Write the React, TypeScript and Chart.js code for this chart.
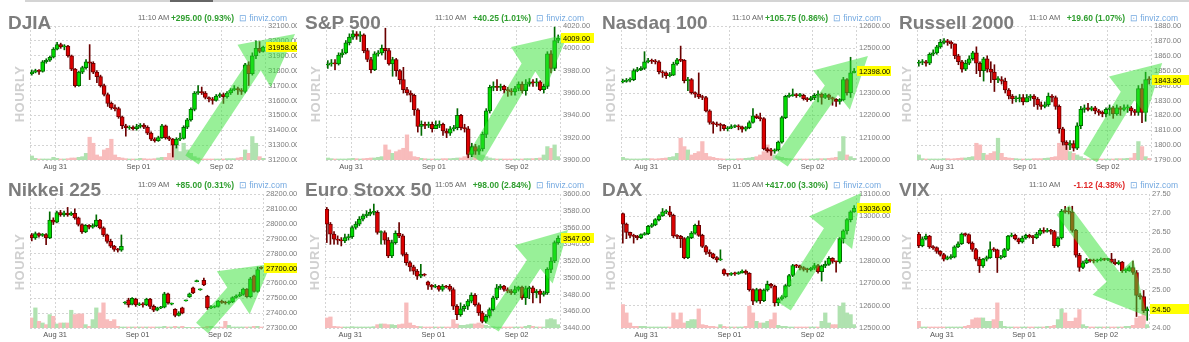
import React, { useEffect, useRef } from "react";
import { Chart, registerables } from "chart.js";

Chart.register(...registerables);
Chart.defaults.font.family = "'Liberation Sans', Arial, sans-serif";

// ---------- shared axis labels ----------
const dayTicks = [7, 30, 53];
const dayLabels = ["Aug 31", "Sep 01", "Sep 02"];

// ---------- DJIA ----------
const djiaFirstOpen = 31780;
const djiaClose = [31790,31800,31795,31860,31870,31890,31945,31975,31960,31965,31900,31810,31700,31790,31820,31860,31850,31790,31760,31700,31640,31580,31550,31545,31490,31430,31415,31420,31410,31425,31435,31420,31380,31340,31330,31350,31430,31350,31340,31300,31340,31345,31420,31470,31540,31650,31660,31650,31620,31610,31600,31630,31640,31625,31650,31670,31680,31670,31660,31840,31780,31900,31950,31930,31958];
const djiaHigh = [31805,31810,31808,31868,31880,31898,31955,31990,31985,31975,31970,31905,31815,31795,31830,31875,31975,31860,31800,31770,31710,31650,31590,31570,31555,31495,31440,31430,31430,31440,31445,31445,31430,31390,31350,31360,31440,31435,31360,31345,31350,31380,31430,31480,31550,31660,31700,31690,31660,31625,31620,31640,31650,31650,31660,31680,31700,31690,31680,31850,31860,31920,32000,31995,31965];
const djiaLow = [31770,31785,31775,31790,31850,31862,31885,31940,31950,31940,31890,31800,31690,31695,31780,31810,31740,31780,31720,31690,31630,31560,31540,31530,31480,31410,31360,31405,31400,31400,31415,31410,31370,31330,31320,31325,31345,31340,31330,31220,31280,31330,31340,31410,31460,31530,31640,31640,31610,31590,31575,31595,31620,31580,31615,31640,31665,31640,31640,31650,31700,31770,31880,31920,31925];
const djiaVol = [12,5,3,3,3,3,8,5,3,3,4,6,6,8,10,20,68,50,15,10,30,35,62,15,8,6,4,3,3,3,5,4,3,3,4,6,8,8,20,45,40,25,50,30,20,10,6,3,3,3,3,3,3,3,4,4,4,6,8,30,20,70,50,10,5];
// arrow: tail index, tail value, neck index, neck value, tip index, tip value
const djiaArrow = [44.3, 31200, 61.5, 31831, 72.8, 32046];

// ---------- S&P 500 ----------
const spxFirstOpen = 3985;
const spxClose = [3986,3987,3986,3994,3996,4005,4010,4013,4011,4012,3998,3990,3981,3995,3996,4000,3998,3986,3990,3980,3972,3963,3960,3958,3945,3930,3932,3931,3932,3928,3931,3932,3926,3924,3928,3929,3940,3929,3928,3905,3912,3908,3910,3923,3944,3965,3966,3965,3966,3963,3962,3961,3964,3968,3962,3968,3970,3969,3970,3963,3966,3995,3982,4007,4009];
const spxHigh = [3989,3990,3990,3996,3999,4007,4013,4016,4015,4015,4013,4000,3992,3997,3998,4003,4018,4000,3992,3991,3981,3983,3965,3962,3959,3946,3935,3934,3934,3934,3935,3935,3933,3928,3930,3931,3946,3941,3932,3930,3915,3914,3913,3925,3946,3967,3970,3972,3968,3967,3965,3964,3966,3970,3970,3972,3973,3972,3973,3971,3968,3997,3998,4019,4012];
const spxLow = [3982,3984,3981,3985,3992,3995,4003,4008,4008,4006,3996,3988,3978,3980,3993,3994,3990,3985,3975,3975,3968,3960,3958,3952,3940,3925,3922,3928,3929,3925,3928,3929,3922,3920,3922,3926,3927,3927,3925,3902,3903,3905,3905,3908,3920,3942,3962,3962,3962,3960,3957,3958,3958,3962,3960,3958,3966,3966,3966,3962,3960,3964,3978,3980,4005];
const spxVol = [6,4,3,3,3,3,4,5,4,3,4,5,6,6,8,10,45,30,20,25,30,35,75,25,10,8,5,4,3,3,3,3,4,4,4,5,6,6,10,25,20,35,25,15,10,6,4,3,3,3,3,3,3,3,3,4,4,4,5,6,15,40,35,45,10];
const spxArrow = [40.9, 3901.8, 55.75, 3982.8, 66.7, 4012.8];

// ---------- Nasdaq 100 ----------
const ndxFirstOpen = 12350;
const ndxClose = [12352,12358,12360,12400,12405,12410,12440,12445,12442,12440,12395,12390,12378,12380,12430,12448,12446,12355,12360,12302,12295,12282,12280,12220,12168,12160,12158,12155,12140,12142,12150,12152,12148,12138,12145,12168,12198,12190,12185,12050,12042,12040,12045,12080,12190,12285,12288,12292,12288,12290,12275,12270,12278,12290,12295,12280,12292,12280,12272,12262,12270,12360,12302,12390,12398];
const ndxHigh = [12362,12365,12368,12408,12415,12418,12485,12455,12452,12450,12445,12400,12395,12392,12438,12455,12510,12450,12370,12365,12305,12390,12290,12285,12225,12172,12170,12165,12160,12150,12158,12158,12158,12152,12150,12175,12230,12205,12210,12190,12055,12052,12050,12085,12195,12290,12300,12318,12298,12298,12295,12280,12285,12298,12310,12300,12298,12295,12282,12275,12275,12370,12365,12460,12410];
const ndxLow = [12345,12348,12350,12355,12395,12400,12405,12435,12432,12430,12385,12370,12365,12372,12378,12425,12440,12345,12310,12295,12280,12275,12270,12215,12160,12120,12150,12130,12132,12130,12140,12145,12135,12125,12130,12140,12165,12185,12175,12045,12035,12020,12030,12040,12075,12185,12280,12285,12280,12282,12268,12262,12265,12270,12260,12250,12275,12270,12245,12240,12250,12265,12290,12280,12390];
const ndxVol = [8,4,3,3,3,3,4,4,4,3,4,5,6,8,10,20,65,40,30,15,20,25,55,20,10,8,5,4,3,3,3,3,4,4,5,6,8,10,15,25,45,30,15,10,8,5,4,3,3,3,3,3,3,3,4,4,4,5,6,8,25,70,15,10,5];
const ndxArrow = [43.8, 11991, 57.7, 12313, 67.8, 12466];

// ---------- Russell 2000 ----------
const rutFirstOpen = 1855;
const rutClose = [1855.5,1856,1855,1861,1862,1866,1869,1870,1869,1868,1860,1856,1851,1855,1858,1862,1855,1850,1858,1851,1849,1844,1844,1843,1837,1833,1831,1831,1832,1829,1832,1833,1831,1827,1826,1827,1833,1832,1826,1811,1802,1800,1801,1798,1813,1824,1825,1824,1825,1823,1822,1821,1824,1825,1821,1825,1824,1825,1825,1823,1822,1838,1822,1844,1843.8];
const rutHigh = [1857,1857.5,1857,1862,1864,1867,1871,1871.5,1871,1870,1868,1861,1857,1857,1860,1863,1866,1856,1859,1860,1856,1854,1846,1846,1845,1838,1834,1833,1834,1834,1834,1834,1834,1832,1829,1829,1835,1834,1833,1827,1812,1803,1803,1803,1815,1826,1827,1828,1826,1826,1824,1823,1825,1827,1826,1827,1826,1827,1827,1826,1824,1840,1841,1849,1846];
const rutLow = [1853,1854,1853,1854,1860,1861,1865,1868,1867,1865,1858,1854,1849,1850,1854,1857,1848,1846,1843,1849,1842,1836,1842,1841,1835,1831,1828,1829,1829,1827,1829,1830,1826,1824,1824,1825,1826,1829,1824,1808,1800,1797,1797,1796,1797,1811,1822,1823,1823,1821,1820,1819,1819,1820,1818,1820,1820,1823,1822,1820,1820,1820,1815,1816,1841];
const rutVol = [15,4,3,3,3,3,3,4,4,3,4,5,6,6,8,10,50,45,20,15,20,25,65,20,8,6,5,4,3,3,3,3,4,4,4,5,6,8,10,50,70,40,25,20,15,10,5,3,3,3,3,3,3,3,3,4,4,4,5,6,20,55,40,10,5];
const rutArrow = [47.6, 1791.3, 58.0, 1833.0, 67.6, 1855.1];

// ---------- Nikkei 225 ----------
const nkyOpen = [27925,27905,27935,27922,27928,27905,28025,28010,28075,28060,28072,28060,28070,28040,27995,27945,27990,27978,27988,28025,27972,27925,27882,27850,27828,27822,27468,27490,27460,27495,27455,27462,27455,27495,27445,27420,27435,27440,27530,27460,27425,27385,27435,27482,27508,27570,27612,27556,27620,27513,27435,27440,27445,27480,27472,27468,27475,27505,27515,27525,27562,27510,27650,27545,27710];
const nkyClose = [27905,27935,27922,27928,27905,28025,28010,28075,28060,28072,28060,28070,28040,27995,27945,27990,27978,27988,28025,27972,27925,27882,27850,27828,27822,27848,27472,27455,27500,27455,27462,27455,27495,27445,27420,27435,27440,27530,27470,27462,27385,27400,27400,27485,27530,27535,27618,27560,27590,27435,27440,27445,27480,27472,27468,27475,27505,27515,27525,27562,27510,27630,27545,27692,27700];
const nkyHigh = [27935,27945,27940,27935,27935,28080,28040,28085,28090,28085,28110,28080,28100,28045,28000,27995,27995,28000,28060,28030,27980,27930,27895,27855,27835,27925,27478,27500,27505,27500,27470,27470,27500,27500,27455,27440,27445,27540,27535,27468,27430,27410,27440,27488,27535,27575,27622,27563,27635,27520,27450,27450,27485,27488,27480,27482,27510,27522,27540,27568,27565,27640,27655,27710,27712];
const nkyLow = [27885,27895,27910,27915,27860,27900,27995,28005,28050,28050,28050,28055,28030,27985,27935,27940,27965,27970,27980,27965,27915,27870,27840,27815,27810,27815,27460,27440,27455,27445,27450,27440,27450,27430,27410,27415,27430,27435,27460,27455,27375,27380,27395,27480,27505,27530,27610,27553,27585,27425,27430,27435,27440,27465,27460,27460,27470,27500,27510,27520,27505,27505,27540,27540,27695];
const nkyVol = [30,60,20,15,10,40,35,12,15,15,15,53,40,42,42,10,5,25,60,45,75,25,20,25,5,3,3,3,3,3,3,3,3,3,3,3,3,5,3,3,5,3,5,2,2,2,2,2,2,5,5,3,3,3,20,8,3,3,3,3,3,3,5,5,3];
const nkyArrow = [47.5, 27300, 56.2, 27537, 66.7, 27730];

// ---------- Euro Stoxx 50 ----------
const sx5Open = [3582,3564,3552,3546,3545,3544,3548,3549,3560,3564,3570,3574,3576,3578,3578,3554,3554,3545,3526,3542,3553,3550,3528,3518,3513,3508,3502,3504,3495,3491,3489,3490,3486,3490,3490,3486,3466,3456,3463,3466,3472,3479,3468,3458,3448,3454,3462,3476,3488,3490,3486,3484,3482,3486,3489,3476,3487,3488,3482,3484,3480,3482,3510,3520,3542];
const sx5Close = [3564,3552,3546,3545,3544,3548,3549,3560,3564,3570,3574,3576,3578,3578,3554,3554,3545,3526,3542,3553,3550,3528,3518,3513,3508,3502,3504,3503,3491,3489,3490,3486,3490,3489,3486,3466,3456,3463,3466,3472,3479,3468,3458,3448,3454,3462,3476,3488,3490,3486,3484,3482,3486,3489,3476,3487,3488,3482,3484,3480,3482,3510,3520,3542,3547];
const sx5High = [3584,3566,3555,3550,3548,3552,3552,3562,3567,3573,3576,3580,3582,3588,3580,3556,3556,3548,3545,3556,3566,3552,3530,3520,3515,3510,3516,3505,3496,3492,3492,3491,3492,3491,3492,3488,3468,3470,3468,3474,3482,3481,3470,3460,3456,3464,3478,3492,3492,3491,3488,3486,3490,3490,3490,3490,3490,3490,3486,3486,3484,3512,3524,3544,3550];
const sx5Low = [3542,3540,3540,3540,3538,3542,3545,3547,3558,3562,3568,3572,3574,3575,3552,3540,3540,3524,3524,3540,3548,3526,3515,3508,3504,3498,3500,3502,3486,3486,3488,3484,3484,3488,3484,3462,3450,3454,3460,3462,3470,3466,3455,3446,3446,3452,3460,3474,3486,3484,3482,3480,3480,3484,3474,3468,3475,3470,3476,3470,3478,3480,3506,3518,3540];
const sx5Vol = [30,33,5,4,3,3,3,4,3,3,3,3,3,4,10,12,12,10,10,8,10,12,75,15,8,5,4,3,3,3,3,3,3,3,3,25,12,8,8,10,12,12,15,10,8,5,4,3,3,3,3,3,3,3,3,5,8,5,3,3,3,25,28,25,10];
const sx5Arrow = [45.7, 3441, 57.2, 3516, 66.7, 3557];

// ---------- DAX ----------
const daxOpen = [13012,12965,12928,12915,12910,12905,12918,12922,12955,12962,12985,13002,13020,13020,13005,12912,12910,12900,12815,12905,12925,12960,12915,12865,12840,12832,12815,12805,12762,12742,12740,12745,12742,12748,12755,12745,12672,12620,12672,12622,12670,12695,12688,12612,12630,12640,12690,12735,12780,12778,12770,12762,12760,12768,12780,12752,12778,12785,12812,12798,12796,12900,12935,12985,13020];
const daxClose = [12965,12928,12915,12910,12905,12918,12922,12955,12962,12985,13002,13020,13020,13005,12912,12910,12900,12815,12905,12925,12960,12915,12865,12840,12832,12815,12805,12808,12742,12740,12745,12742,12748,12755,12745,12672,12620,12672,12622,12670,12695,12688,12612,12630,12640,12690,12735,12780,12778,12770,12762,12760,12768,12780,12752,12778,12785,12812,12798,12796,12900,12935,12985,13020,13036];
const daxHigh = [13015,12970,12930,12920,12915,12922,12928,12960,12968,12990,13008,13035,13030,13045,13010,12918,12915,12905,12910,12932,12965,12980,12920,12870,12850,12835,12820,12850,12765,12745,12748,12750,12752,12760,12760,12748,12675,12678,12675,12675,12710,12700,12692,12635,12645,12695,12740,12785,12785,12782,12775,12768,12772,12790,12785,12782,12800,12820,12815,12800,12905,12940,12990,13025,13048];
const daxLow = [12880,12900,12905,12880,12895,12900,12915,12918,12950,12958,12980,13000,13012,12998,12905,12900,12860,12810,12810,12900,12920,12910,12860,12830,12820,12810,12795,12802,12735,12732,12735,12735,12740,12745,12740,12665,12605,12615,12610,12618,12665,12680,12598,12600,12625,12635,12685,12730,12770,12760,12755,12750,12755,12762,12745,12710,12770,12780,12790,12750,12790,12880,12920,12975,13018];
const daxVol = [70,45,15,5,5,5,5,3,3,3,3,3,3,3,45,25,45,15,20,25,25,57,10,8,5,5,3,10,5,3,3,3,3,3,5,65,45,20,15,15,20,25,45,8,5,5,3,3,3,3,3,3,3,3,3,20,45,15,10,10,65,75,45,40,10];
const daxArrow = [44.6, 12598, 57.5, 12927, 65.9, 13104];

// ---------- VIX ----------
const vixFirstOpen = 26.45;
const vixClose = [26.15,26.33,26.40,26.12,26.10,26.00,25.92,25.80,25.84,25.85,26.12,26.20,26.45,26.44,26.22,26.05,25.80,25.62,25.80,25.84,26.05,26.04,25.83,25.86,26.05,26.40,26.42,26.33,26.25,26.35,26.42,26.38,26.36,26.45,26.55,26.52,26.55,26.52,26.15,26.35,27.05,27.04,27.03,26.55,25.90,25.58,25.70,25.78,25.76,25.75,25.77,25.80,25.79,25.80,25.72,25.68,25.72,25.50,25.50,25.58,25.45,24.85,24.82,24.45,24.50];
const vixHigh = [26.50,26.38,26.45,26.42,26.15,26.12,26.02,25.95,25.88,25.92,26.15,26.25,26.48,26.48,26.46,26.25,26.08,25.85,25.82,25.88,26.25,26.10,26.06,25.90,26.08,26.42,26.48,26.45,26.35,26.40,26.45,26.45,26.42,26.50,26.60,26.62,26.60,26.58,26.55,26.38,27.10,27.18,27.15,27.18,26.58,25.95,25.75,25.82,25.80,25.80,25.80,25.83,25.82,25.82,25.95,25.80,25.76,25.74,25.55,25.62,25.75,25.50,24.90,24.98,24.55];
const vixLow = [26.10,26.12,26.30,26.08,26.05,25.95,25.88,25.75,25.78,25.80,25.83,26.10,26.18,26.40,26.20,26.00,25.75,25.45,25.58,25.75,25.82,26.00,25.45,25.80,25.84,26.02,26.38,26.30,26.20,26.22,26.32,26.35,26.20,26.33,26.42,26.48,26.50,26.45,26.10,26.12,26.32,27.00,26.98,26.50,25.85,25.48,25.55,25.68,25.72,25.70,25.72,25.75,25.76,25.76,25.70,25.65,25.65,25.45,25.45,25.48,25.40,24.30,24.75,24.40,24.20];
const vixVol = [20,3,3,3,3,3,3,3,3,3,3,3,3,5,8,25,30,30,30,20,20,25,75,20,5,3,3,3,3,3,3,3,3,3,3,3,5,5,8,25,57,45,20,20,30,55,10,5,3,3,3,3,3,3,3,3,3,3,5,5,8,30,35,75,10];
const vixArrow = [40.4, 27.08, 54.4, 25.33, 63.9, 24.31];

// ---------- styling ----------
const UP_FILL = "#00dd00";
const UP_LINE = "#006a00";
const DN_FILL = "#dd0000";
const DN_LINE = "#6a0000";
const VOL_UP = "#b0e2b0";
const VOL_DN = "#f8bcbc";
const GRID = "#d4d4d4";
const ARROW = "rgba(50,225,50,0.5)";
const FONT = "'Liberation Sans', Arial, sans-serif";

function opensFrom(first: number, closes: number[]) {
  return [first, ...closes.slice(0, -1)];
}

type PanelDef = {
  title: string; time: string; change: string; changeColor: string;
  open: number[]; close: number[]; high: number[]; low: number[]; vol: number[];
  yMin: number; yMax: number; yStep: number; arrow: number[];
  left: number; row: number; width: number; plotL: number; plotR: number;
};

const GREEN_TXT = "#2f9e2f";
const RED_TXT = "#e02a2a";

const panels: PanelDef[] = [
  { title: "DJIA", time: "11:10 AM", change: "+295.00 (0.93%)", changeColor: GREEN_TXT,
    open: opensFrom(djiaFirstOpen, djiaClose), close: djiaClose, high: djiaHigh, low: djiaLow, vol: djiaVol,
    yMin: 31200, yMax: 32100, yStep: 100, arrow: djiaArrow, left: 0, row: 0, width: 297, plotL: 30, plotR: 265 },
  { title: "S&P 500", time: "11:10 AM", change: "+40.25 (1.01%)", changeColor: GREEN_TXT,
    open: opensFrom(spxFirstOpen, spxClose), close: spxClose, high: spxHigh, low: spxLow, vol: spxVol,
    yMin: 3900, yMax: 4020, yStep: 20, arrow: spxArrow, left: 297, row: 0, width: 297, plotL: 29, plotR: 263 },
  { title: "Nasdaq 100", time: "11:10 AM", change: "+105.75 (0.86%)", changeColor: GREEN_TXT,
    open: opensFrom(ndxFirstOpen, ndxClose), close: ndxClose, high: ndxHigh, low: ndxLow, vol: ndxVol,
    yMin: 12000, yMax: 12600, yStep: 100, arrow: ndxArrow, left: 594, row: 0, width: 297, plotL: 27, plotR: 262 },
  { title: "Russell 2000", time: "11:10 AM", change: "+19.60 (1.07%)", changeColor: GREEN_TXT,
    open: opensFrom(rutFirstOpen, rutClose), close: rutClose, high: rutHigh, low: rutLow, vol: rutVol,
    yMin: 1790, yMax: 1880, yStep: 10, arrow: rutArrow, left: 891, row: 0, width: 298, plotL: 26, plotR: 260 },
  { title: "Nikkei 225", time: "11:09 AM", change: "+85.00 (0.31%)", changeColor: GREEN_TXT,
    open: nkyOpen, close: nkyClose, high: nkyHigh, low: nkyLow, vol: nkyVol,
    yMin: 27300, yMax: 28200, yStep: 100, arrow: nkyArrow, left: 0, row: 1, width: 297, plotL: 30, plotR: 263 },
  { title: "Euro Stoxx 50", time: "11:05 AM", change: "+98.00 (2.84%)", changeColor: GREEN_TXT,
    open: sx5Open, close: sx5Close, high: sx5High, low: sx5Low, vol: sx5Vol,
    yMin: 3440, yMax: 3600, yStep: 20, arrow: sx5Arrow, left: 297, row: 1, width: 297, plotL: 28, plotR: 263 },
  { title: "DAX", time: "11:05 AM", change: "+417.00 (3.30%)", changeColor: GREEN_TXT,
    open: daxOpen, close: daxClose, high: daxHigh, low: daxLow, vol: daxVol,
    yMin: 12500, yMax: 13100, yStep: 100, arrow: daxArrow, left: 594, row: 1, width: 297, plotL: 27, plotR: 262 },
  { title: "VIX", time: "11:10 AM", change: "-1.12 (4.38%)", changeColor: RED_TXT,
    open: opensFrom(vixFirstOpen, vixClose), close: vixClose, high: vixHigh, low: vixLow, vol: vixVol,
    yMin: 24, yMax: 27.5, yStep: 0.5, arrow: vixArrow, left: 891, row: 1, width: 298, plotL: 26, plotR: 258 },
];

const PANEL_H = 171;
const ROW_STEP = 168;

function CandlePanel({ p }: { p: PanelDef }) {
  const ref = useRef<HTMLCanvasElement | null>(null);

  useEffect(() => {
    const n = p.close.length;
    const up = p.close.map((c, i) => c >= p.open[i]);
    const xs = p.close.map((_, i) => i + 0.5);

    const overlay = {
      id: "overlay",
      afterDatasetsDraw(chart: any) {
        const { ctx } = chart;
        const sx = chart.scales.x;
        const sy = chart.scales.y;
        const px = (k: number) => sx.getPixelForValue(p.arrow[k] + 0.5);
        const py = (k: number) => sy.getPixelForValue(p.arrow[k + 1]);
        const ax = px(0), ay = py(0);
        const nkx = px(2), nky = py(2);
        const bx = px(4), by = py(4);
        // shaft direction
        const l1 = Math.hypot(nkx - ax, nky - ay);
        const sdx = (nkx - ax) / l1, sdy = (nky - ay) / l1;
        const snx = -sdy, sny = sdx;
        // head direction
        const l2 = Math.hypot(bx - nkx, by - nky);
        const hdx = (bx - nkx) / l2, hdy = (by - nky) / l2;
        const hnx = -hdy, hny = hdx;
        const SW = 8, HW = 27;
        ctx.save();
        ctx.fillStyle = ARROW;
        ctx.beginPath();
        ctx.moveTo(ax + snx * SW, ay + sny * SW);
        ctx.lineTo(nkx + snx * SW, nky + sny * SW);
        ctx.lineTo(nkx + hnx * HW, nky + hny * HW);
        ctx.lineTo(bx, by);
        ctx.lineTo(nkx - hnx * HW, nky - hny * HW);
        ctx.lineTo(nkx - snx * SW, nky - sny * SW);
        ctx.lineTo(ax - snx * SW, ay - sny * SW);
        ctx.closePath();
        ctx.fill();
        ctx.restore();
      },
      afterDraw(chart: any) {
        const { ctx, chartArea } = chart;
        const last = p.close[p.close.length - 1];
        const y = Math.round(chart.scales.y.getPixelForValue(last));
        ctx.save();
        ctx.fillStyle = "#ffff00";
        ctx.fillRect(chartArea.right + 1, y - 5, p.width - chartArea.right, 10);
        ctx.fillStyle = "#000";
        ctx.font = `7.5px ${FONT}`;
        ctx.textBaseline = "middle";
        ctx.textAlign = "left";
        ctx.fillText(last.toFixed(2), chartArea.right + 3, y + 0.5);
        ctx.restore();
      },
    };

    const chart = new Chart(ref.current as HTMLCanvasElement, {
      type: "bar",
      data: {
        datasets: [
          {
            label: "body",
            data: xs.map((x, i) => ({ x, y: [p.open[i], p.close[i]] })) as any,
            backgroundColor: up.map((u) => (u ? UP_FILL : DN_FILL)),
            borderColor: up.map((u) => (u ? UP_LINE : DN_LINE)),
            borderWidth: 1,
            borderSkipped: false,
            barThickness: 4,
            minBarLength: 1,
            grouped: false,
            order: 1,
            yAxisID: "y",
          },
          {
            label: "wick",
            data: xs.map((x, i) => ({ x, y: [p.low[i], p.high[i]] })) as any,
            backgroundColor: up.map((u) => (u ? UP_LINE : DN_LINE)),
            barThickness: 1,
            grouped: false,
            order: 2,
            yAxisID: "y",
          },
          {
            label: "volume",
            data: xs.map((x, i) => ({ x, y: p.vol[i] })) as any,
            backgroundColor: up.map((u) => (u ? VOL_UP : VOL_DN)),
            barPercentage: 1,
            categoryPercentage: 1,
            grouped: false,
            order: 3,
            yAxisID: "yv",
          },
        ],
      },
      options: {
        animation: false,
        responsive: false,
        devicePixelRatio: 1,
        layout: { padding: { left: p.plotL, top: 26, right: 0, bottom: 0 } },
        plugins: { legend: { display: false }, tooltip: { enabled: false }, title: { display: false } },
        scales: {
          x: {
            type: "linear",
            min: 0,
            max: n,
            offset: false,
            grid: { color: GRID, offset: false, drawTicks: false, lineWidth: 1 },
            border: { display: false, dash: [2, 2] },
            afterBuildTicks: (s: any) => {
              s.ticks = [0, ...dayTicks, n].map((v) => ({ value: v }));
            },
            afterFit: (s: any) => {
              s.height = 11;
            },
            ticks: {
              autoSkip: false,
              maxRotation: 0,
              padding: 2,
              color: "#555",
              font: { size: 7.5 },
              callback: (v: any) => {
                const k = dayTicks.indexOf(Number(v));
                return k >= 0 ? dayLabels[k] : "";
              },
            },
          },
          y: {
            position: "right",
            min: p.yMin,
            max: p.yMax,
            grid: { color: GRID, drawTicks: false, lineWidth: 1 },
            border: { display: false, dash: [2, 2] },
            afterFit: (s: any) => {
              s.width = p.width - p.plotR;
            },
            ticks: {
              stepSize: p.yStep,
              padding: 3,
              color: "#7d7d7d",
              font: { size: 7.5 },
              autoSkip: false,
              callback: (v: any) => Number(v).toFixed(2),
            },
          },
          yv: { display: false, min: 0, max: 400 },
        },
      } as any,
      plugins: [overlay],
    });
    return () => chart.destroy();
  }, [p]);

  const top = p.row * ROW_STEP;
  const titleTop = p.row === 0 ? 13 : 12;
  const headTop = p.row === 0 ? 14 : 13;
  return (
    <div style={{ position: "absolute", left: p.left, top, width: p.width, height: PANEL_H }}>
      <canvas
        ref={ref}
        width={p.width}
        height={PANEL_H}
        style={{ position: "absolute", left: 0, top: 0, width: p.width, height: PANEL_H }}
      />
      <div
        style={{
          position: "absolute", left: 8, top: titleTop, font: `bold 19px/19px ${FONT}`,
          color: "#7d7d7d", whiteSpace: "nowrap",
        }}
      >
        {p.title}
      </div>
      <div
        style={{
          position: "absolute", left: 138, top: headTop, font: `7.5px/8px ${FONT}`,
          color: "#666", whiteSpace: "nowrap",
        }}
      >
        {p.time}
      </div>
      <div
        style={{
          position: "absolute", right: p.width - 234, top: headTop, font: `bold 8.5px/8px ${FONT}`,
          color: p.changeColor, whiteSpace: "nowrap",
        }}
      >
        {p.change}
      </div>
      <div
        style={{
          position: "absolute", left: 239, top: headTop, font: `8.5px/8px ${FONT}`,
          color: "#74a9e0", whiteSpace: "nowrap",
        }}
      >
        ⊡ finviz.com
      </div>
      <div
        style={{
          position: "absolute", left: p.plotL - 10 - 35, top: 94 - 7, width: 70, height: 14,
          transform: "rotate(-90deg)", textAlign: "center", font: `bold 13px/14px ${FONT}`,
          color: "#d0d0d0", letterSpacing: 0.5, whiteSpace: "nowrap",
        }}
      >
        HOURLY
      </div>
    </div>
  );
}

export default function App() {
  return (
    <div
      style={{
        position: "fixed", left: 0, top: 0, width: 1189, height: 342,
        background: "#fff", overflow: "hidden",
      }}
    >
      <div style={{ position: "absolute", left: 25, top: 0, width: 1164, height: 2, background: "#d4d4d4" }} />
      <div style={{ position: "absolute", left: 170, top: 0, width: 43, height: 2, background: "#666" }} />
      {panels.map((p) => (
        <CandlePanel key={p.title} p={p} />
      ))}
    </div>
  );
}
